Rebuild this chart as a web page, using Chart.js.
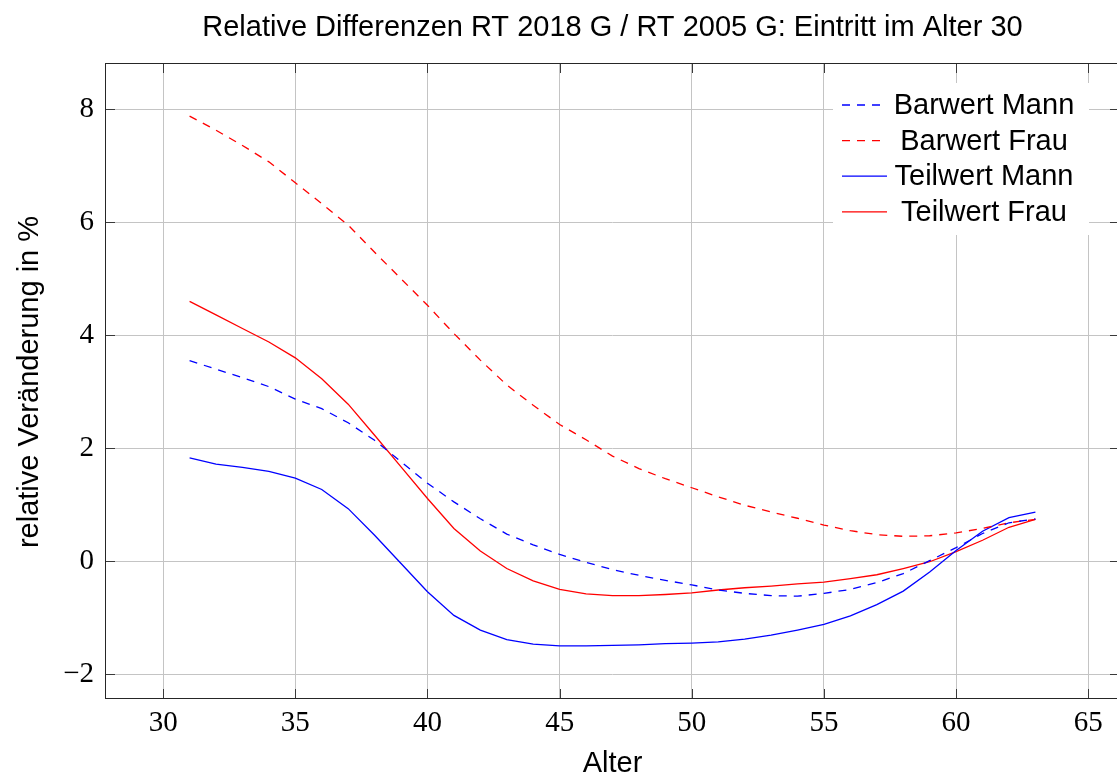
<!DOCTYPE html>
<html><head><meta charset="utf-8">
<script src="https://cdn.jsdelivr.net/npm/chart.js@4.4.1/dist/chart.umd.min.js"></script>
<style>html,body{margin:0;padding:0;background:#fff;overflow:hidden}canvas{display:block}</style>
</head><body>
<canvas id="c" width="1120" height="773"></canvas>
<script>
const chartTitle = 'Relative Differenzen RT 2018 G / RT 2005 G: Eintritt im Alter 30';
const xTitle = 'Alter';
const yTitle = 'relative Veränderung in %';
const ages = [31,32,33,34,35,36,37,38,39,40,41,42,43,44,45,46,47,48,49,50,51,52,53,54,55,56,57,58,59,60,61,62,63];
const barwertMann = [3.55,3.40,3.25,3.09,2.87,2.70,2.45,2.14,1.76,1.38,1.05,0.75,0.48,0.29,0.12,-0.02,-0.15,-0.25,-0.34,-0.42,-0.51,-0.57,-0.61,-0.62,-0.57,-0.50,-0.38,-0.22,0.01,0.24,0.49,0.68,0.75];
const barwertFrau = [7.88,7.63,7.36,7.07,6.70,6.33,5.95,5.47,5.00,4.53,4.03,3.56,3.12,2.76,2.42,2.15,1.86,1.64,1.46,1.30,1.14,0.99,0.87,0.76,0.64,0.54,0.47,0.44,0.45,0.50,0.58,0.68,0.74];
const teilwertMann = [1.83,1.72,1.66,1.59,1.47,1.27,0.93,0.46,-0.04,-0.54,-0.96,-1.22,-1.39,-1.47,-1.50,-1.50,-1.49,-1.48,-1.46,-1.45,-1.43,-1.38,-1.31,-1.22,-1.12,-0.97,-0.77,-0.53,-0.19,0.19,0.53,0.77,0.87];
const teilwertFrau = [4.60,4.36,4.12,3.88,3.60,3.23,2.78,2.23,1.67,1.11,0.58,0.18,-0.13,-0.35,-0.50,-0.58,-0.61,-0.61,-0.59,-0.56,-0.51,-0.47,-0.44,-0.40,-0.37,-0.31,-0.24,-0.13,-0.01,0.17,0.37,0.60,0.74];
const seriesNames = ['Barwert Mann','Barwert Frau','Teilwert Mann','Teilwert Frau'];
const xTicks = [30,35,40,45,50,55,60,65];
const yTicks = [-2,0,2,4,6,8];

const SANS = '"Liberation Sans", Arial, Helvetica, sans-serif';
const SERIF = '"Liberation Serif", "Times New Roman", serif';
const BLUE = '#0000ff', RED = '#ff0000';
const DASH = [8, 7];

function pts(arr){ return ages.map((a,i)=>({x:a, y:arr[i]})); }

const decor = {
  id: 'decor',
  afterDatasetsDraw(chart){
    const {ctx, chartArea:a, scales:{x, y}} = chart;
    ctx.save();
    ctx.strokeStyle = '#3a3a3a'; ctx.lineWidth = 1;
    ctx.beginPath();
    xTicks.forEach(v=>{ const px = Math.round(x.getPixelForValue(v))+0.5;
      ctx.moveTo(px, a.bottom); ctx.lineTo(px, a.bottom-10);
      ctx.moveTo(px, a.top); ctx.lineTo(px, a.top+10); });
    yTicks.forEach(v=>{ const py = Math.round(y.getPixelForValue(v))+0.5;
      ctx.moveTo(a.left, py); ctx.lineTo(a.left+10, py);
      ctx.moveTo(a.right, py); ctx.lineTo(a.right-10, py); });
    ctx.stroke();
    ctx.strokeStyle = '#262626';
    ctx.strokeRect(Math.round(a.left)+0.5, Math.round(a.top)+0.5, Math.round(a.right-a.left)-1, Math.round(a.bottom-a.top)-1);
    // legend
    const lx = a.right - 287, ly = a.top + 20, lw = 256, lh = 152;
    ctx.fillStyle = '#fff';
    ctx.fillRect(lx, ly, lw, lh);
    ctx.font = '29px ' + SANS;
    ctx.textAlign = 'center'; ctx.textBaseline = 'alphabetic';
    chart.data.datasets.forEach((ds,i)=>{
      const base = ly + 31 + i*35.6;
      const ly2 = base - 9;
      ctx.strokeStyle = ds.borderColor; ctx.lineWidth = ds.borderWidth;
      ctx.setLineDash(ds.borderDash || []);
      ctx.beginPath(); ctx.moveTo(lx+9, ly2); ctx.lineTo(lx+54, ly2); ctx.stroke();
      ctx.setLineDash([]);
      ctx.fillStyle = '#000';
      ctx.fillText(ds.label, lx+151, base);
    });
    ctx.restore();
  },
  afterDraw(chart){
    const {ctx, chartArea:a} = chart;
    const cx = (a.left + a.right)/2;
    ctx.save();
    ctx.fillStyle = '#000';
    ctx.font = '29px ' + SANS;
    ctx.textAlign = 'center'; ctx.textBaseline = 'alphabetic';
    ctx.fillText(chartTitle, cx, 36);
    ctx.fillText(xTitle, cx, 772);
    ctx.translate(38, (a.top+a.bottom)/2 + 1);
    ctx.rotate(-Math.PI/2);
    ctx.fillText(yTitle, 0, 0);
    ctx.restore();
  }
};

new Chart(document.getElementById('c'), {
  type: 'line',
  data: {
    datasets: [
      {label: seriesNames[0], data: pts(barwertMann), borderColor: BLUE, borderDash: DASH},
      {label: seriesNames[1], data: pts(barwertFrau), borderColor: RED, borderDash: DASH},
      {label: seriesNames[2], data: pts(teilwertMann), borderColor: BLUE},
      {label: seriesNames[3], data: pts(teilwertFrau), borderColor: RED}
    ].map(d=>Object.assign({borderWidth: 1.3, pointRadius: 0, tension: 0, fill: false}, d))
  },
  options: {
    responsive: false, animation: false,
    layout: {padding: {top: 63, right: 0, bottom: 0, left: 0}},
    plugins: {legend: {display: false}, title: {display: false}, tooltip: {enabled: false}},
    scales: {
      x: {
        type: 'linear', min: 27.8, max: 66.2,
        afterBuildTicks: s => { s.ticks = xTicks.map(v=>({value: v})); },
        afterFit: s => { s.height = 74; },
        grid: {color: '#c4c4c4', lineWidth: 1, drawTicks: false},
        border: {display: false},
        ticks: {padding: 7, color: '#000', font: {family: SERIF, size: 29}, maxRotation: 0, autoSkip: false}
      },
      y: {
        type: 'linear', min: -2.44, max: 8.82,
        afterBuildTicks: s => { s.ticks = yTicks.map(v=>({value: v})); },
        afterFit: s => { s.width = 105; },
        grid: {color: '#c4c4c4', lineWidth: 1, drawTicks: false},
        border: {display: false},
        ticks: {padding: 11, color: '#000', font: {family: SERIF, size: 29},
          callback: v => String(v).replace('-', '\u2212')}
      }
    }
  },
  plugins: [decor]
});
</script>
</body></html>
